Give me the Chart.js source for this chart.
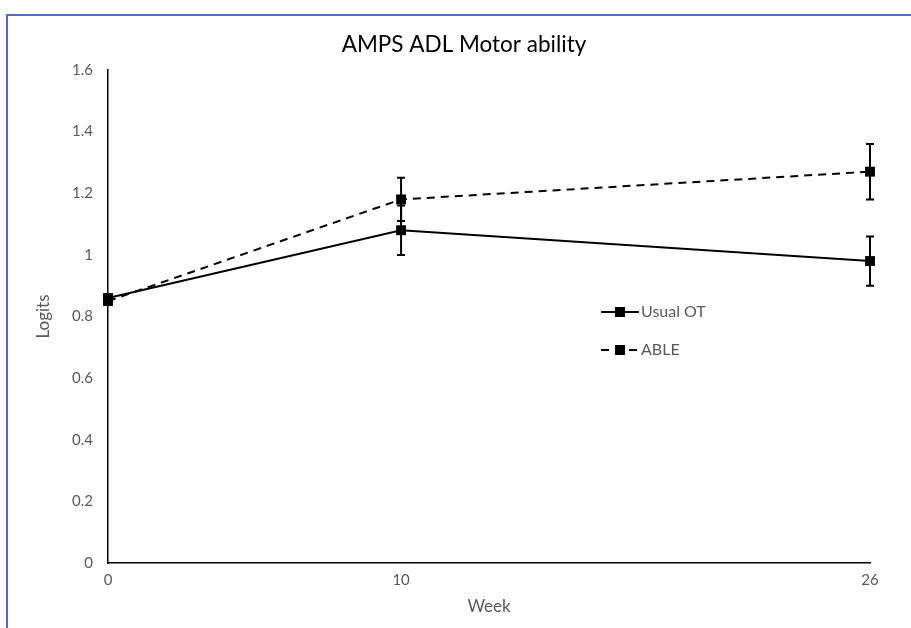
<!DOCTYPE html>
<html>
<head>
<meta charset="utf-8">
<script src="https://cdn.jsdelivr.net/npm/chart.js@4.4.1/dist/chart.umd.min.js"></script>
<style>
    html, body { margin: 0; padding: 0; background: #fff; }
    #frame {
        position: absolute; left: 6px; top: 14px; width: 905px; height: 614px;
        border-left: 2px solid #4a72c0; border-top: 2px solid #4a72c0;
        box-sizing: border-box;
    }
    #wrap { position: absolute; left: 0; top: 0; width: 911px; height: 628px; }
</style>
</head>
<body>
<div id="frame"></div>
<div id="wrap"><canvas id="ampsChart" width="911" height="628"></canvas></div>
<script>
/* =============================
   AMPS ADL Motor ability
   ============================= */

const weeks = [0, 10, 26];
const xTicks = [0, 10, 26];
const yTicks = [0, 0.2, 0.4, 0.6, 0.8, 1, 1.2, 1.4, 1.6];

const usualOT = [0.86, 1.08, 0.98];
const usualOTErr = [0, 0.08, 0.08];

const able = [0.85, 1.18, 1.27];
const ableErr = [0, 0.07, 0.09];

const seriesNames = ["Usual OT", "ABLE"];

const textGrey = '#595959';
const fontFamily = 'Lato, "Open Sans", sans-serif';

// vertical error bars drawn through the scales
const errorBars = {
    id: 'errorBars',
    beforeDatasetsDraw(chart) {
        const ctx = chart.ctx;
        const xs = chart.scales.x;
        const ys = chart.scales.y;
        chart.data.datasets.forEach(ds => {
            ctx.save();
            ctx.strokeStyle = '#000';
            ctx.lineWidth = 2;
            ds.data.forEach((p, i) => {
                const e = ds.errors[i];
                if (!e) return;
                const px = xs.getPixelForValue(p.x);
                const top = ys.getPixelForValue(p.y + e);
                const bot = ys.getPixelForValue(p.y - e);
                ctx.beginPath();
                ctx.moveTo(px, top); ctx.lineTo(px, bot);
                ctx.moveTo(px - 4, top); ctx.lineTo(px + 4, top);
                ctx.moveTo(px - 4, bot); ctx.lineTo(px + 4, bot);
                ctx.stroke();
            });
            ctx.restore();
        });
    }
};

// legend sitting inside the plot area
const innerLegend = {
    id: 'innerLegend',
    afterDraw(chart) {
        const ctx = chart.ctx;
        const x0 = 601, y0 = 312, gap = 38;
        chart.data.datasets.forEach((ds, i) => {
            const y = y0 + i * gap;
            ctx.save();
            ctx.strokeStyle = '#000';
            ctx.lineWidth = 2;
            ctx.setLineDash(ds.borderDash || []);
            ctx.beginPath();
            ctx.moveTo(x0, y); ctx.lineTo(x0 + 38, y);
            ctx.stroke();
            ctx.setLineDash([]);
            ctx.fillStyle = '#000';
            ctx.fillRect(x0 + 14, y - 5, 10, 10);
            ctx.fillStyle = textGrey;
            ctx.font = '16px ' + fontFamily;
            ctx.textBaseline = 'middle';
            ctx.fillText(ds.label, x0 + 40, y);
            ctx.restore();
        });
    }
};

function toPoints(vals) {
    return weeks.map((w, i) => ({ x: w, y: vals[i] }));
}

new Chart(document.getElementById("ampsChart"), {
    type: "line",
    data: {
        datasets: [{
            label: seriesNames[0],
            data: toPoints(usualOT),
            errors: usualOTErr,
            borderColor: '#000',
            backgroundColor: '#000',
            borderWidth: 2,
            pointStyle: 'rect',
            pointRadius: 7,
            pointBorderWidth: 0,
            clip: false
        }, {
            label: seriesNames[1],
            data: toPoints(able),
            errors: ableErr,
            borderColor: '#000',
            backgroundColor: '#000',
            borderWidth: 2,
            borderDash: [8, 6],
            pointStyle: 'rect',
            pointRadius: 7,
            pointBorderWidth: 0,
            clip: false
        }]
    },
    options: {
        responsive: false,
        animation: false,
        devicePixelRatio: 1,
        layout: { padding: { left: 58, right: 41, top: 0, bottom: 0 } },
        plugins: {
            legend: { display: false },
            tooltip: { enabled: false },
            title: {
                display: true,
                text: 'AMPS ADL Motor ability',
                color: '#000',
                font: { family: fontFamily, size: 22.5, weight: 'normal', lineHeight: 1.2 },
                padding: { top: 31, bottom: 12 }
            }
        },
        scales: {
            x: {
                type: 'linear',
                min: 0,
                max: 26,
                afterBuildTicks: s => { s.ticks = xTicks.map(v => ({ value: v })); },
                afterFit: s => { s.height = 65; },
                grid: { display: false, drawTicks: false },
                border: { display: true, color: '#000', width: 1.5 },
                ticks: { color: textGrey, padding: 8, font: { family: fontFamily, size: 15 } },
                title: {
                    display: true, text: 'Week', color: textGrey,
                    font: { family: fontFamily, size: 17 },
                    padding: { top: 0, bottom: 11 }
                }
            },
            y: {
                min: 0,
                max: 1.6,
                afterBuildTicks: s => { s.ticks = yTicks.map(v => ({ value: v })); },
                afterFit: s => { s.width = 50; },
                grid: { display: false, drawTicks: false },
                border: { display: true, color: '#000', width: 1.5 },
                ticks: {
                    color: textGrey, padding: 15,
                    font: { family: fontFamily, size: 15 },
                    callback: v => String(Number(v.toFixed(1)))
                },
                title: {
                    display: true, text: 'Logits', color: textGrey,
                    font: { family: fontFamily, size: 17 },
                    padding: { top: -25, bottom: 0 }
                }
            }
        }
    },
    plugins: [errorBars, innerLegend]
});
</script>
</body>
</html>
